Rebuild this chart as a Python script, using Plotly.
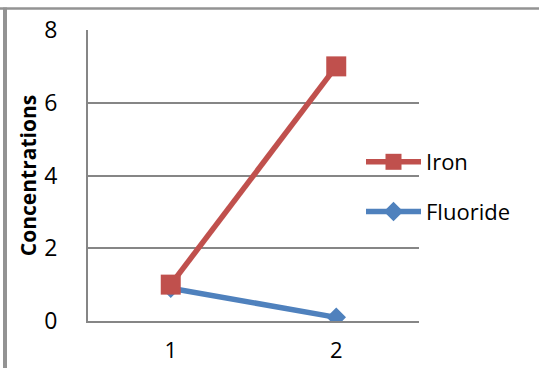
import plotly.graph_objects as go

# Sample positions and measured concentrations
samples = [1, 2]
iron = [1.0, 7.0]
fluoride = [0.9, 0.1]
y_ticks = [0, 2, 4, 6, 8]

W, H = 539, 368
L, R, T, B = 88, 120, 30, 47  # plot-area margins in px
pw, ph = W - L - R, H - T - B

def px_x(x):
    return (x - L) / pw

def px_y(y):
    return (H - B - y) / ph

FONT = "Open Sans"
GRID = "#868686"
FRAME = "#939393"

fig = go.Figure()
fig.add_trace(go.Scatter(
    x=samples, y=fluoride, name="Fluoride", mode="lines+markers",
    line=dict(color="#4F81BD", width=5.5),
    marker=dict(symbol="diamond", size=15, color="#4F81BD"),
    legendgroup="f", legendrank=2,
))
fig.add_trace(go.Scatter(
    x=samples, y=iron, name="Iron", mode="lines+markers",
    line=dict(color="#C0504D", width=5.5),
    marker=dict(symbol="square", size=20, color="#C0504D"),
    legendgroup="i", legendrank=1,
))

# outer frame: top and left edges
fig.add_shape(type="line", xref="paper", yref="paper",
              x0=px_x(0), x1=px_x(W), y0=px_y(8.5), y1=px_y(8.5),
              line=dict(color=FRAME, width=2.5))
fig.add_shape(type="line", xref="paper", yref="paper",
              x0=px_x(5), x1=px_x(5), y0=px_y(7.5), y1=px_y(H + 5),
              line=dict(color=FRAME, width=4))

fig.update_layout(
    width=W, height=H,
    margin=dict(l=L, r=R, t=T, b=B, pad=0, autoexpand=False),
    paper_bgcolor="white", plot_bgcolor="white",
    font=dict(family=FONT, size=23, color="black"),
    showlegend=True,
    legend=dict(
        x=px_x(361), y=px_y(187), xanchor="left", yanchor="middle",
        traceorder="grouped", tracegroupgap=18,
        itemwidth=55, bgcolor="rgba(0,0,0,0)",
        font=dict(family=FONT, size=22),
    ),
    xaxis=dict(
        range=[0.5, 2.5], tickvals=samples, ticktext=[str(s) for s in samples],
        showgrid=False, zeroline=False, showline=True, linecolor=GRID, linewidth=2,
        ticks="", ticklabelstandoff=9, automargin=False,
        tickfont=dict(family=FONT, size=22),
    ),
    yaxis=dict(
        range=[0, 8], tickvals=y_ticks, showgrid=True, gridcolor=GRID, gridwidth=2,
        zeroline=False, showline=True, linecolor=GRID, linewidth=2, ticks="",
        ticklabelstandoff=24, automargin=False,
        title=dict(text="<b>Concentrations</b>", font=dict(family=FONT, size=21), standoff=2),
    ),
)

fig.write_html("out.html")
